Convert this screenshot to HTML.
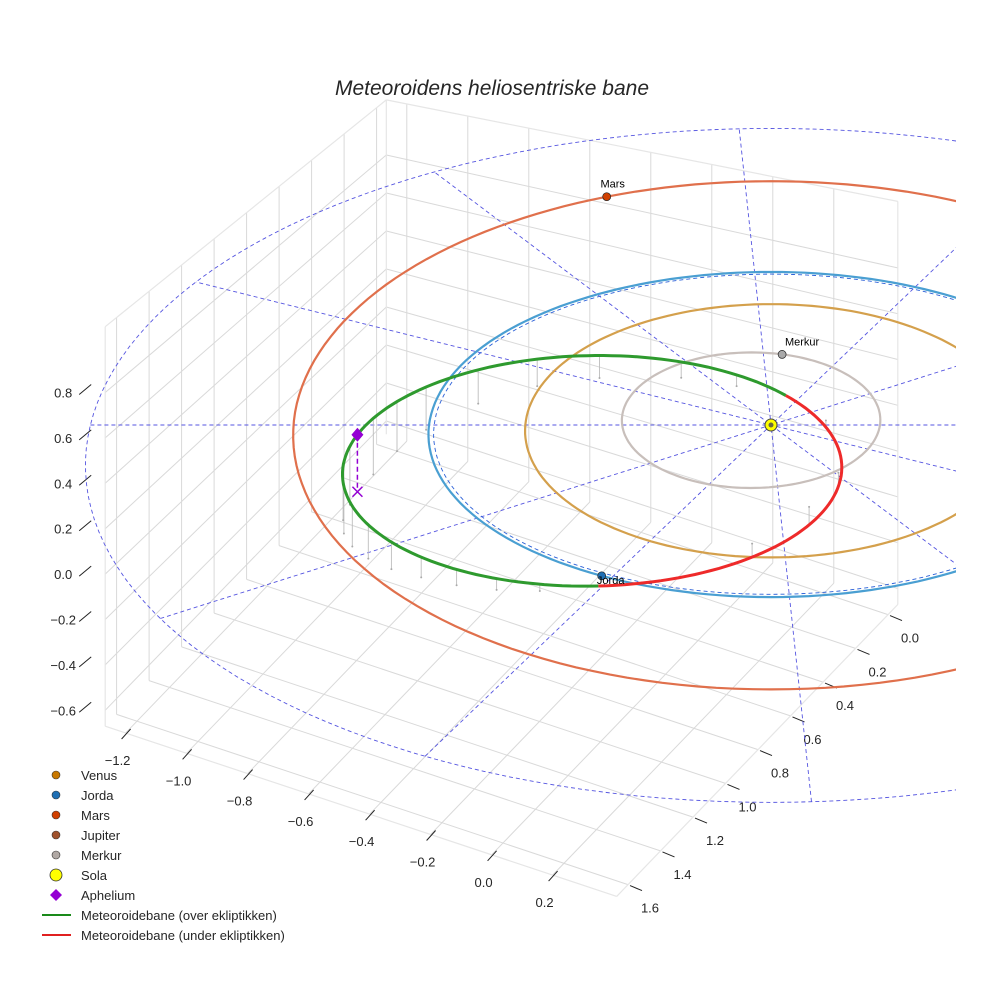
<!DOCTYPE html>
<html><head><meta charset="utf-8"><style>
html,body{margin:0;padding:0;background:#fff;}
svg{display:block;font-family:"Liberation Sans",sans-serif;}
</style></head><body>
<svg id="chart" width="984" height="984" viewBox="0 0 984 984">
<rect width="984" height="984" fill="#fff"/>
<defs><clipPath id="clipR"><rect x="0" y="0" width="956" height="984"/></clipPath></defs>
<text x="492" y="95" text-anchor="middle" font-size="21" font-style="italic" fill="#262626">Meteoroidens heliosentriske bane</text>
<g id="box"></g>
<g id="plot" clip-path="url(#clipR)"></g>
<g id="legend"></g>
</svg>
<script>
// ---- data ----
const xTicks = [-1.2,-1.0,-0.8,-0.6,-0.4,-0.2,0.0,0.2];
const yTicks = [0.0,0.2,0.4,0.6,0.8,1.0,1.2,1.4,1.6];
const zTicks = [-0.6,-0.4,-0.2,0.0,0.2,0.4,0.6,0.8];
const planetNames = ['Merkur','Venus','Jorda','Mars'];
const planetRx = [0.39,0.74,1.03,1.44];
const planetRy = [0.42,0.78,1.00,1.57];
const planetCx = [-0.06,0.0,0.0,0.0];
const planetCy = [-0.04,0.0,0.0,-0.08];
const planetAngle = [-76,null,118,-112];
const planetColors = ['#c8bfbb','#d4a04c','#4a9fd2','#e0704c'];
const markerColors = ['#a9a9a9','#c87800','#1f6fb4','#d04000'];
const refRadius = 2.05;
const rayAngles = [0,-33,-63,-93,-123,-153];
const meteorCenter = [-0.53,0.25];
const meteorAxes = [0.74,0.69];
const greenRange = [87,321];
const aphelionAngle = 196;
const stemAngles = [100,110,120,130,140,150,160,170,180,190,205,215,225,240,255,270,290,305,340,10,30,50];
const stemZ = [0.03,0.05,0.07,0.09,0.12,0.15,0.18,0.21,0.24,0.26,0.25,0.22,0.19,0.15,0.12,0.1,0.07,0.05,-0.03,-0.06,-0.08,-0.06];

const NS='http://www.w3.org/2000/svg';
function mk(tag, attrs, parent){const e=document.createElementNS(NS,tag);for(const k in attrs)e.setAttribute(k,attrs[k]);parent.appendChild(e);return e;}
const box=document.getElementById('box'), plot=document.getElementById('plot'), legend=document.getElementById('legend');

// ---- box projection ----
const xmin=-1.267,xmax=0.41,ymin=-0.06,ymax=1.67,zmin=-0.67,zmax=1.09;
const O=[763,573], ex=[305,101.5], ey=[-162.5,168.75];
function floorP(x,y){return [O[0]+x*ex[0]+y*ey[0], O[1]+x*ex[1]+y*ey[1]];}
function zs(x,y){const u=(x-xmin)/(xmax-xmin), v=(ymax-y)/(ymax-ymin);
  const L=227,F=240,R=229,B=190; return (1-u)*(1-v)*L+u*(1-v)*F+u*v*R+(1-u)*v*B;}
function P3(x,y,z){const p=floorP(x,y);return [p[0], p[1]-(z-zmin)*zs(x,y)];}
function line(a,b,attrs,parent){return mk('line',Object.assign({x1:a[0].toFixed(1),y1:a[1].toFixed(1),x2:b[0].toFixed(1),y2:b[1].toFixed(1)},attrs),parent);}
const gridA={stroke:'#d9d9d9','stroke-width':1};
xTicks.forEach(x=>{const l=line(P3(x,ymin,zmin),P3(x,ymax,zmin),gridA,box);

});
yTicks.forEach(y=>{const l=line(P3(xmin,y,zmin),P3(xmax,y,zmin),gridA,box);

});
yTicks.forEach(y=>{const l=line(P3(xmin,y,zmin),P3(xmin,y,zmax),gridA,box);

});
zTicks.forEach(z=>{const l=line(P3(xmin,ymin,z),P3(xmin,ymax,z),gridA,box);

});
xTicks.forEach(x=>{const l=line(P3(x,ymin,zmin),P3(x,ymin,zmax),gridA,box);

});
zTicks.forEach(z=>{const l=line(P3(xmin,ymin,z),P3(xmax,ymin,z),gridA,box);

});
const edgeA={stroke:'#e6e6e6','stroke-width':1.2};
[[P3(xmin,ymax,zmin),P3(xmax,ymax,zmin)],[P3(xmax,ymax,zmin),P3(xmax,ymin,zmin)],
 [P3(xmin,ymax,zmin),P3(xmin,ymax,zmax)],[P3(xmin,ymin,zmin),P3(xmin,ymin,zmax)],[P3(xmax,ymin,zmin),P3(xmax,ymin,zmax)],
 [P3(xmin,ymax,zmax),P3(xmin,ymin,zmax)],[P3(xmin,ymin,zmax),P3(xmax,ymin,zmax)]].forEach(s=>{
 const l=line(s[0],s[1],edgeA,box);
 
 });
const tickA={stroke:'#222','stroke-width':1};
xTicks.forEach(x=>{const p=P3(x,ymax,zmin);
 const t=line([p[0]-4,p[1]+6],[p[0]+5,p[1]-4],tickA,box);
 
 
 const tx=mk('text',{x:(p[0]-8).toFixed(1),y:(p[1]+32).toFixed(1),'text-anchor':'middle','font-size':13,fill:'#262626'},box);
 tx.textContent=(x<0?'\u2212':'')+Math.abs(x).toFixed(1);
 
 });
yTicks.forEach(y=>{const p=P3(xmax,y,zmin);
 const t=line([p[0]+2,p[1]+1],[p[0]+14,p[1]+6],tickA,box);
 
 
 const tx=mk('text',{x:(p[0]+22).toFixed(1),y:(p[1]+28).toFixed(1),'text-anchor':'middle','font-size':13,fill:'#262626'},box);
 tx.textContent=y.toFixed(1);
 
 });
zTicks.forEach(z=>{const p=P3(xmin,ymax,z);
 const t=line([p[0]-26,p[1]+2],[p[0]-14,p[1]-8],tickA,box);
 
 
 const tx=mk('text',{x:(p[0]-42).toFixed(1),y:(p[1]+5).toFixed(1),'text-anchor':'middle','font-size':13,fill:'#262626'},box);
 tx.textContent=(z<0?'\u2212':'')+Math.abs(z).toFixed(1);
 
 });

// ---- orbit projection ----
function proj(x,y,z){const f=1/(1-0.0585*y);return [771+332*x*f, 425+162*y*f-225*(z||0)];}
function ellPts(cx,cy,rx,ry,a0,a1,step){const pts=[];for(let a=a0;a<=a1+1e-9;a+=step){const r=a*Math.PI/180;pts.push(proj(cx+rx*Math.cos(r),cy+ry*Math.sin(r)));}return pts;}
function pathD(pts){return 'M'+pts.map(p=>p[0].toFixed(1)+','+p[1].toFixed(1)).join('L');}
const dashA={fill:'none',stroke:'#5555e0','stroke-width':0.9,'stroke-dasharray':'4,3'};
const ref=mk('path',Object.assign({d:pathD(ellPts(0,0,refRadius,refRadius,0,360,2))},dashA),plot);


rayAngles.forEach(a=>{const r=a*Math.PI/180;
 const l=line(proj(-refRadius*Math.cos(r),-refRadius*Math.sin(r)),proj(refRadius*Math.cos(r),refRadius*Math.sin(r)),dashA,plot);
 
 });
planetNames.forEach((n,i)=>{
 const o=mk('path',{d:pathD(ellPts(planetCx[i],planetCy[i],planetRx[i],planetRy[i],0,360,2)),fill:'none',stroke:planetColors[i],'stroke-width':2.2},plot);
 
 
 if(n==='Jorda'){const d=mk('path',Object.assign({d:pathD(ellPts(planetCx[i],planetCy[i],planetRx[i]*0.985,planetRy[i]*0.985,0,360,2))},dashA,{stroke:'#2a5fd8'}),plot);
  
  }
});
stemAngles.forEach((a,i)=>{const r=a*Math.PI/180;
 const p=proj(meteorCenter[0]+meteorAxes[0]*Math.cos(r),meteorCenter[1]+meteorAxes[1]*Math.sin(r));
 const q=[p[0],p[1]+stemZ[i]*225];
 const l=line(p,q,{stroke:'#bdbdbd','stroke-width':0.9},plot);
 
 
 const d=mk('circle',{cx:q[0].toFixed(1),cy:q[1].toFixed(1),r:1,fill:'#aaa'},plot);
 
 });
const g=mk('path',{d:pathD(ellPts(meteorCenter[0],meteorCenter[1],meteorAxes[0],meteorAxes[1],greenRange[0],greenRange[1],2)),fill:'none',stroke:'#2e9a2e','stroke-width':3},plot);


const rd=mk('path',{d:pathD(ellPts(meteorCenter[0],meteorCenter[1],meteorAxes[0],meteorAxes[1],greenRange[1],greenRange[0]+360,2)),fill:'none',stroke:'#ee2a2a','stroke-width':3},plot);


{const r=aphelionAngle*Math.PI/180;
 const p=proj(meteorCenter[0]+meteorAxes[0]*Math.cos(r),meteorCenter[1]+meteorAxes[1]*Math.sin(r));
 const q=[p[0],p[1]+57];
 const l=line(p,q,{stroke:'#9400d3','stroke-width':1.5,'stroke-dasharray':'5,3'},plot);
 
 
 const x=mk('path',{d:`M${q[0]-5},${q[1]-5}L${q[0]+5},${q[1]+5}M${q[0]-5},${q[1]+5}L${q[0]+5},${q[1]-5}`,stroke:'#9400d3','stroke-width':1.5},plot);
 
 
 const dm=mk('path',{d:`M${p[0]},${p[1]-7}L${p[0]+6},${p[1]}L${p[0]},${p[1]+7}L${p[0]-6},${p[1]}Z`,fill:'#9400d3'},plot);
 
 }
planetNames.forEach((n,i)=>{if(planetAngle[i]===null)return;const r=planetAngle[i]*Math.PI/180;
 const p=proj(planetCx[i]+planetRx[i]*Math.cos(r),planetCy[i]+planetRy[i]*Math.sin(r));
 const c=mk('circle',{cx:p[0].toFixed(1),cy:p[1].toFixed(1),r:4,fill:markerColors[i],stroke:'#222','stroke-width':0.7},plot);
 
 
 const t=mk('text',{x:(p[0]+(n==='Mars'?6:(n==='Jorda'?9:20))).toFixed(1),y:(p[1]+(n==='Jorda'?8:-9)).toFixed(1),'text-anchor':'middle','font-size':11,fill:'#000'},plot);
 t.textContent=n;
 
 });
{const p=proj(0,0);const s=mk('circle',{cx:p[0],cy:p[1],r:6,fill:'#ffff00',stroke:'#444','stroke-width':1},plot);
 
 
 const s2=mk('circle',{cx:p[0],cy:p[1],r:2.5,fill:'#6a6a40'},plot);
 
 }

const legLabels=['Venus','Jorda','Mars','Jupiter','Merkur','Sola','Aphelium','Meteoroidebane (over ekliptikken)','Meteoroidebane (under ekliptikken)'];
const legKinds=['dot','dot','dot','dot','dot','sun','diamond','line','line'];
const legColors=['#c87800','#1f6fb4','#d04000','#a0522d','#b0a8a4','#ffff00','#9400d3','#1a8a1a','#e02020'];
legLabels.forEach((lab,i)=>{const y=775+i*20;
 let m;
 if(legKinds[i]==='dot')m=mk('circle',{cx:56,cy:y,r:4,fill:legColors[i],stroke:'#333','stroke-width':0.6},legend);
 else if(legKinds[i]==='sun')m=mk('circle',{cx:56,cy:y,r:6,fill:legColors[i],stroke:'#333','stroke-width':0.8},legend);
 else if(legKinds[i]==='diamond')m=mk('path',{d:`M56,${y-6}L62,${y}L56,${y+6}L50,${y}Z`,fill:legColors[i]},legend);
 else m=mk('line',{x1:42,y1:y,x2:71,y2:y,stroke:legColors[i],'stroke-width':2},legend);
 
 
 const t=mk('text',{x:81,y:y+5,'font-size':13,fill:'#262626'},legend);
 t.textContent=lab;
 
 });
</script>
</body></html>
